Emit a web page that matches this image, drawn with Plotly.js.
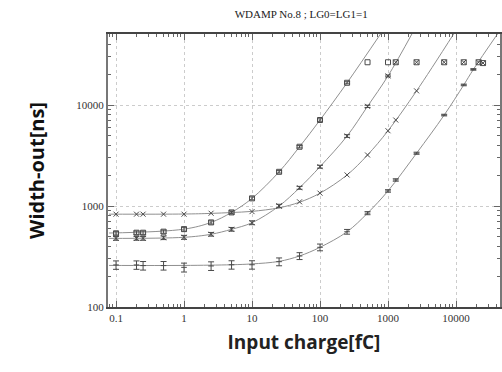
<!DOCTYPE html>
<html>
<head>
<meta charset="utf-8">
<script src="https://cdn.plot.ly/plotly-3.0.1.min.js"></script>
<style>html,body{margin:0;padding:0;background:#fff;}#chart{width:502px;height:372px;}</style>
</head>
<body>
<div id="chart"></div>
<script>
// Series A (open squares)
const aX = [0.1, 0.2, 0.25, 0.5, 1, 2.5, 5, 10, 25, 50, 100, 250];
const aY = [537, 544, 544, 557, 590, 688, 864, 1190, 2180, 3860, 7100, 16600];
const aErr = [20, 20, 20, 20, 25, 25, 30, 40, 60, 100, 200, 400];
const aSatX = [500, 1000];
const aSatY = [26500, 26500];
// Series B (crosses with error bars)
const bX = [0.1, 0.2, 0.25, 0.5, 1, 2.5, 5, 10, 25, 50, 100, 250, 500, 1000];
const bY = [478, 478, 478, 485, 490, 525, 588, 683, 1000, 1515, 2450, 4930, 9700, 19400];
const bErr = [20, 20, 20, 20, 22, 22, 25, 30, 40, 50, 80, 150, 250, 400];
const bSatX = [1300, 2630];
const bSatY = [26500, 26500];
// Series C (crosses)
const cX = [0.1, 0.2, 0.25, 0.5, 1, 2.5, 5, 10, 25, 50, 100, 250, 500, 1000, 1300, 2630];
const cY = [830, 830, 830, 830, 830, 848, 864, 880, 1000, 1100, 1340, 2030, 3200, 5560, 7100, 13800];
const cSatX = [6700, 13000];
const cSatY = [26500, 26500];
// Series D (error bars)
const dX = [0.1, 0.2, 0.25, 0.5, 1, 2.5, 5, 10, 25, 50, 100, 250, 500, 1000, 1300, 2630, 6700, 13000, 18000];
const dY = [261, 261, 257, 257, 247, 255, 262, 262, 281, 320, 390, 556, 850, 1410, 1810, 3330, 7950, 15800, 22500];
const dErr = [25, 25, 25, 25, 25, 25, 25, 25, 25, 25, 30, 30, 30, 40, 50, 80, 150, 300, 400];
const dSatX = [21500, 25000];
const dSatY = [26500, 26000];
// Fit curves
const fitAX = [0.079, 1, 2.5, 5, 10, 25, 50, 100, 250, 800];
const fitAY = [540, 590, 688, 864, 1190, 2180, 3860, 7100, 16600, 52000];
const fitBX = [0.079, 1, 2.5, 5, 10, 25, 50, 100, 250, 500, 1000, 2300];
const fitBY = [478, 490, 525, 588, 683, 1000, 1515, 2450, 4930, 9700, 19400, 52000];
const fitCX = [0.079, 1, 2.5, 5, 10, 25, 50, 100, 250, 500, 1000, 2630, 9500];
const fitCY = [830, 833, 845, 862, 885, 960, 1090, 1340, 2030, 3200, 5560, 13800, 52000];
const fitDX = [0.079, 1, 5, 10, 25, 50, 100, 250, 500, 1000, 2630, 6700, 13000, 18000, 42000];
const fitDY = [258, 258, 262, 267, 283, 320, 390, 556, 850, 1410, 3330, 7950, 15800, 22500, 52000];

const xTicks = [0.1, 1, 10, 100, 1000, 10000];
const xTickText = ['0.1', '1', '10', '100', '1000', '10000'];
const yTicks = [100, 1000, 10000];
const yTickText = ['100', '1000', '10000'];

const lineCol = '#909090';
const markCol = '#4a4a4a';

function fit(x, y) {
  return {x: x, y: y, mode: 'lines', line: {color: lineCol, width: 1, shape: 'spline'}, hoverinfo: 'skip', showlegend: false};
}
function pts(x, y, sym, size, err) {
  const t = {x: x, y: y, mode: 'markers', showlegend: false,
    marker: {symbol: sym, size: size, color: markCol, line: {color: markCol, width: 1}}};
  if (err) t.error_y = {type: 'data', array: err, visible: true, color: markCol, thickness: 1, width: 3};
  return t;
}

const data = [
  fit(fitAX, fitAY), fit(fitBX, fitBY), fit(fitCX, fitCY), fit(fitDX, fitDY),
  pts(aX, aY, 'square-open', 5, aErr),
  pts(aSatX, aSatY, 'square-open', 5),
  pts(bX, bY, 'x-thin-open', 5, bErr),
  pts(bSatX, bSatY, 'square-x-open', 5),
  pts(cX, cY, 'x-thin-open', 5),
  pts(cSatX, cSatY, 'square-x-open', 5),
  pts(dX, dY, 'line-ew-open', 4, dErr),
  pts(dSatX, dSatY, 'square-x-open', 5)
];

const layout = {
  width: 502, height: 372,
  margin: {l: 108, r: 2, t: 34, b: 65},
  paper_bgcolor: '#fff', plot_bgcolor: '#fff',
  title: {text: 'WDAMP No.8 ; LG0=LG1=1', font: {family: 'Liberation Serif', size: 11, color: '#222'},
          x: 0.6, xref: 'container', xanchor: 'center', y: 0.962, yanchor: 'middle'},
  xaxis: {
    type: 'log', range: [-1.118, 4.647],
    tickvals: xTicks, ticktext: xTickText,
    ticks: 'inside', ticklen: 6, tickcolor: '#666', tickwidth: 1,
    minor: {ticks: 'inside', ticklen: 3, tickcolor: '#666', dtick: 'D1', showgrid: false},
    showgrid: true, gridcolor: '#cccccc', griddash: 'dot', gridwidth: 1,
    showline: true, linecolor: '#444', linewidth: 2, mirror: 'ticks',
    zeroline: false,
    tickfont: {family: 'Liberation Serif', size: 11, color: '#333'},
    title: {text: 'Input charge[fC]', font: {family: 'Open Sans', size: 19, color: '#222', weight: 'bold'}, standoff: 12}
  },
  yaxis: {
    type: 'log', range: [2, 4.703],
    tickvals: yTicks, ticktext: yTickText,
    ticks: 'inside', ticklen: 6, tickcolor: '#666', tickwidth: 1,
    minor: {ticks: 'inside', ticklen: 3, tickcolor: '#666', dtick: 'D1', showgrid: false},
    showgrid: true, gridcolor: '#cccccc', griddash: 'dot', gridwidth: 1,
    showline: true, linecolor: '#777', linewidth: 2, mirror: 'ticks',
    zeroline: false,
    tickfont: {family: 'Liberation Serif', size: 11, color: '#333'},
    title: {text: 'Width-out[ns]', font: {family: 'Open Sans', size: 20, color: '#111', weight: 'bold'}, standoff: 26}
  }
};

Plotly.newPlot('chart', data, layout, {displayModeBar: false, staticPlot: true});
</script>
</body>
</html>
